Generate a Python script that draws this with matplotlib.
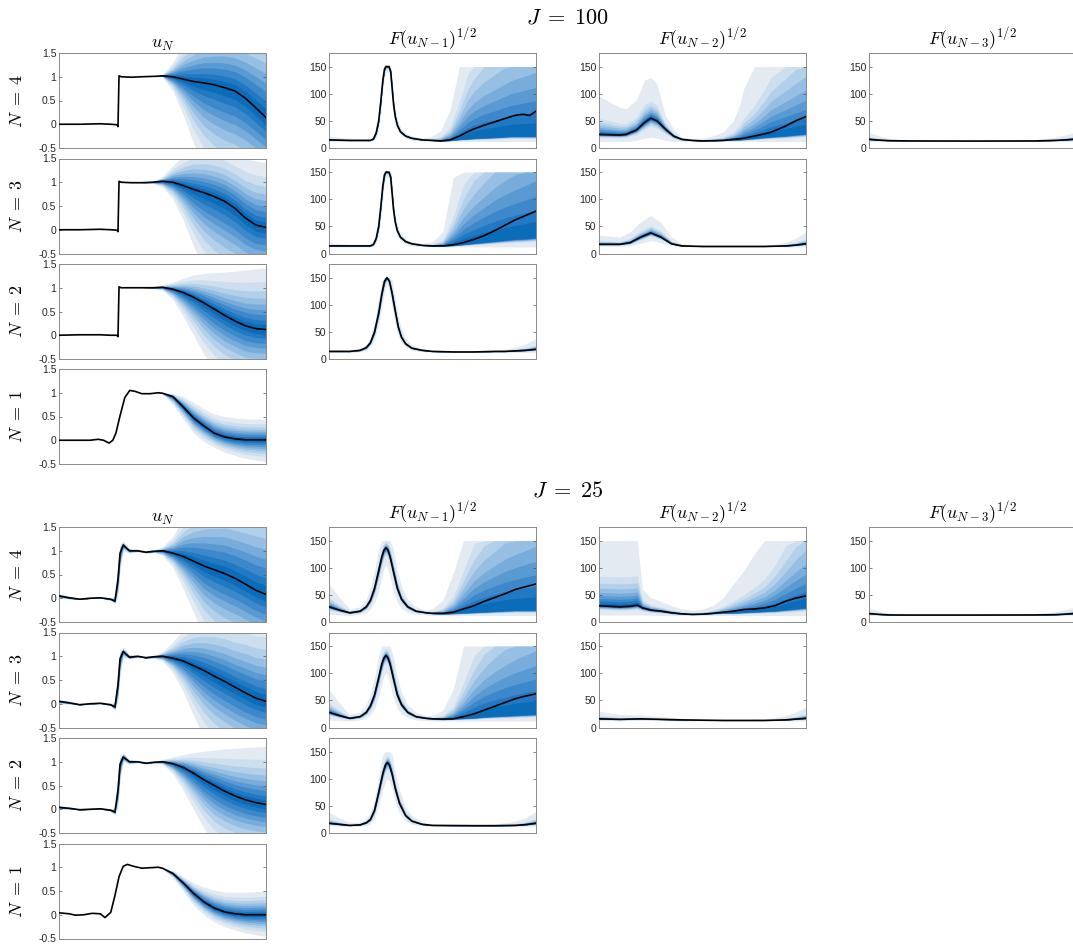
import numpy as np
import matplotlib
matplotlib.use("Agg")
import matplotlib.pyplot as plt

plt.rcParams['mathtext.fontset'] = 'cm'
plt.rcParams['font.family'] = ['Liberation Sans', 'DejaVu Sans']

# ---- data ----------------------------------------------------------------
# each panel: x knots (0..1 along the axis), median line, outer upper/lower
# envelope of the fan (5-95%), optional centre of the fan when it sits
# away from the median line

U_TICKS = [-0.5, 0, 0.5, 1, 1.5]
U_TICKLABELS = ['-0.5', '0', '0.5', '1', '1.5']
F_TICKS = [0, 50, 100, 150]
F_TICKLABELS = ['0', '50', '100', '150']
F_CAP = 150

# J = 100, u_N
j100_u4 = dict(
    x=[0, .1, .2, .25, .28, .285, .29, .3, .35, .4, .47, .5, .55, .6, .65, .7, .75, .8, .85, .9, .95, 1.0],
    med=[0, 0, .01, 0, -.01, -.05, 1.02, 1.0, .99, 1.0, 1.01, 1.02, 1.0, .95, .9, .87, .83, .77, .7, .55, .35, .14],
    hi=[0, 0, .01, 0, -.01, -.05, 1.02, 1.0, .99, 1.0, 1.01, 1.05, 1.3, 1.7, 2.0, 2.2, 2.3, 2.4, 2.4, 2.4, 2.4, 2.4],
    lo=[0, 0, .01, 0, -.01, -.05, 1.02, 1.0, .99, 1.0, 1.01, 1.0, .7, .2, -.4, -.9, -1.2, -1.4, -1.5, -1.6, -1.7, -1.8])
j100_u3 = dict(
    x=[0, .1, .2, .25, .28, .285, .29, .3, .35, .4, .45, .5, .55, .6, .65, .7, .75, .8, .85, .9, .95, 1.0],
    med=[0, 0, .01, 0, -.01, -.04, 1.02, 1.0, .99, .99, 1.0, 1.02, 1.0, .93, .85, .78, .7, .6, .45, .25, .1, .05],
    hi=[0, 0, .01, 0, -.01, -.04, 1.02, 1.0, .99, .99, 1.02, 1.12, 1.35, 1.55, 1.7, 1.75, 1.75, 1.7, 1.6, 1.5, 1.45, 1.42],
    lo=[0, 0, .01, 0, -.01, -.04, 1.02, 1.0, .99, .99, .98, .9, .65, .2, -.35, -.8, -1.1, -1.3, -1.4, -1.5, -1.5, -1.5])
j100_u2 = dict(
    x=[0, .1, .2, .25, .28, .285, .29, .3, .35, .4, .45, .5, .55, .6, .65, .7, .75, .8, .85, .9, .95, 1.0],
    med=[0, .01, .01, 0, 0, -.03, 1.02, 1.0, 1.0, 1.0, 1.0, 1.01, .97, .9, .8, .68, .55, .42, .3, .2, .14, .12],
    hi=[0, .01, .01, 0, 0, -.03, 1.02, 1.0, 1.0, 1.0, 1.01, 1.06, 1.12, 1.2, 1.27, 1.3, 1.32, 1.33, 1.35, 1.37, 1.4, 1.42],
    lo=[0, .01, .01, 0, 0, -.03, 1.02, 1.0, 1.0, 1.0, .99, .95, .75, .4, 0, -.4, -.7, -.9, -1.0, -1.1, -1.1, -1.1])
j100_u1 = dict(
    x=[0, .1, .15, .19, .215, .242, .26, .275, .294, .318, .342, .367, .4, .44, .48, .5, .55, .6, .65, .7, .75, .8, .85, .9, 1.0],
    med=[0, 0, 0, .02, 0, -.06, 0, .15, .5, .9, 1.05, 1.03, .98, .98, 1.0, .99, .92, .7, .47, .3, .15, .07, .03, .01, .01],
    hi=[0, 0, 0, .02, 0, -.06, 0, .15, .5, .9, 1.05, 1.03, .98, .98, 1.0, 1.0, .98, .92, .8, .66, .55, .5, .47, .45, .44],
    lo=[0, 0, 0, .02, 0, -.06, 0, .15, .5, .9, 1.05, 1.03, .98, .98, 1.0, .98, .75, .45, .15, -.03, -.15, -.25, -.32, -.38, -.45])

# J = 100, F(u_{N-1})^{1/2}
j100_f1_4 = dict(
    x=[0, .1, .2, .215, .228, .24, .25, .26, .268, .275, .29, .298, .305, .312, .32, .33, .345, .37, .4, .45,
       .5, .54, .585, .63, .67, .7, .75, .8, .84, .88, .91, .94, .97, 1.0],
    med=[15, 14, 14, 17, 28, 50, 85, 125, 145, 150, 150, 140, 110, 80, 58, 42, 30, 22, 18, 15,
         14, 13, 15, 22, 30, 35, 42, 48, 53, 58, 61, 62, 60, 68],
    hi=[22, 18, 17, 21, 36, 65, 105, 145, 160, 160, 160, 158, 130, 95, 70, 52, 38, 28, 22, 18,
        22, 32, 70, 180, 300, 360, 430, 480, 520, 560, 580, 600, 620, 640],
    lo=[12, 12, 12, 13, 20, 35, 65, 105, 130, 140, 140, 122, 90, 65, 45, 33, 24, 17, 14, 13,
        12, 12, 12, 12, 12, 12, 12, 12, 12, 12, 12, 12, 12, 12],
    ctr=[15, 14, 14, 17, 28, 50, 85, 125, 145, 150, 150, 140, 110, 80, 58, 42, 30, 22, 18, 15,
         14, 13, 14, 16, 17, 18, 19, 20, 21, 22, 22, 22, 22, 22])
j100_f1_3 = dict(
    x=[0, .1, .2, .215, .228, .24, .25, .26, .268, .275, .29, .298, .305, .312, .32, .33, .345, .37, .4, .45,
       .5, .55, .6, .65, .7, .75, .8, .85, .9, .95, 1.0],
    med=[14, 14, 14, 17, 28, 50, 85, 125, 145, 150, 150, 140, 110, 80, 58, 42, 30, 22, 18, 15,
         14, 14, 16, 20, 26, 33, 42, 52, 62, 70, 78],
    hi=[20, 17, 17, 21, 36, 65, 105, 145, 160, 160, 160, 158, 130, 95, 70, 52, 38, 28, 22, 18,
        22, 40, 140, 280, 380, 460, 540, 600, 650, 700, 750],
    lo=[12, 12, 12, 13, 20, 35, 65, 105, 130, 140, 140, 122, 90, 65, 45, 33, 24, 17, 14, 13,
        12, 12, 12, 12, 12, 12, 12, 12, 12, 12, 12],
    ctr=[14, 14, 14, 17, 28, 50, 85, 125, 145, 150, 150, 140, 110, 80, 58, 42, 30, 22, 18, 15,
         14, 14, 15, 17, 19, 21, 23, 25, 27, 28, 30])
j100_f1_2 = dict(
    x=[0, .1, .15, .18, .2, .22, .24, .255, .268, .28, .292, .305, .32, .335, .35, .37, .4, .45, .5,
       .6, .7, .8, .85, .9, .95, 1.0],
    med=[14, 14, 16, 21, 30, 50, 85, 120, 143, 150, 143, 120, 88, 58, 40, 28, 20, 16, 14,
         13, 13, 14, 14, 15, 16, 18],
    hi=[18, 16, 19, 27, 40, 68, 110, 145, 160, 160, 160, 145, 112, 78, 55, 38, 26, 19, 15.5,
        14.5, 14.5, 16, 18, 22, 28, 38],
    lo=[12, 12, 13, 16, 22, 36, 62, 95, 125, 138, 125, 95, 65, 42, 30, 21, 16, 13.5, 12.5,
        12, 12, 12, 12, 12, 12, 12])

# J = 100, F(u_{N-2})^{1/2}
j100_f2_4 = dict(
    x=[0, .05, .1, .13, .18, .22, .25, .28, .32, .36, .4, .45, .5, .55, .6, .65, .68, .7, .75, .8, .83, .9, .95, 1.0],
    med=[25, 24.5, 24, 25, 33, 47, 55, 50, 35, 22, 16, 14, 13, 13.5, 14, 16, 17, 18, 22, 26, 29, 40, 50, 58],
    hi=[95, 85, 75, 72, 88, 125, 130, 118, 60, 35, 20, 17, 18, 22, 30, 50, 80, 110, 160, 230, 280, 350, 400, 450],
    lo=[12, 12, 12, 12, 14, 18, 20, 18, 14, 12, 12, 12, 12, 12, 12, 12, 12, 12, 12, 12, 12, 12, 12, 12],
    ctr=[25, 24.5, 24, 25, 33, 47, 55, 50, 35, 22, 16, 14, 13, 13.5, 14, 15, 15.5, 16, 18, 20, 21, 23, 25, 27])
j100_f2_3 = dict(
    x=[0, .1, .15, .2, .25, .3, .35, .4, .5, .6, .7, .8, .85, .9, .95, 1.0],
    med=[17, 17, 20, 30, 38, 30, 18, 14, 13, 13, 13, 13, 13.5, 14, 15.5, 18],
    hi=[34, 30, 40, 58, 70, 57, 30, 18, 15, 14.5, 14.5, 15, 17, 21, 28, 40],
    lo=[13, 13, 14, 19, 24, 20, 14, 12.5, 12, 12, 12, 12, 12, 12, 12, 12])

# J = 100, F(u_{N-3})^{1/2}
j100_f3_4 = dict(
    x=[0, .05, .1, .2, .5, .8, .9, .95, 1.0],
    med=[16, 14.5, 13.5, 13, 12.8, 13, 14, 15, 16.5],
    hi=[28, 22, 17, 14.5, 14, 14.5, 20, 24, 30],
    lo=[12, 12, 12, 12, 12, 12, 12, 12, 12])

# J = 25, u_N
j25_u4 = dict(
    x=[0, .05, .1, .15, .2, .25, .27, .285, .295, .31, .34, .38, .42, .46, .5, .55, .6, .65, .7, .75, .8, .85, .9, .95, 1.0],
    med=[.05, .01, -.02, 0, .01, -.02, -.06, .4, .95, 1.12, 1.0, 1.0, .97, .99, 1.0, .95, .88, .78, .68, .6, .52, .42, .3, .17, .08],
    hi=[.1, .04, -.01, .01, .02, 0, .05, .8, 1.15, 1.2, 1.05, 1.02, .99, 1.02, 1.08, 1.3, 1.7, 2.0, 2.2, 2.3, 2.4, 2.4, 2.4, 2.4, 2.4],
    lo=[0, -.02, -.03, -.01, 0, -.05, -.12, .05, .6, 1.0, .95, .98, .95, .96, .9, .65, .2, -.3, -.8, -1.1, -1.3, -1.4, -1.5, -1.6, -1.7])
j25_u3 = dict(
    x=[0, .05, .1, .15, .2, .25, .27, .285, .295, .31, .34, .38, .42, .46, .5, .55, .6, .65, .7, .75, .8, .85, .9, .95, 1.0],
    med=[.05, .02, -.02, 0, .01, -.02, -.07, .4, .95, 1.1, .98, 1.0, .97, .99, 1.0, .96, .9, .8, .7, .58, .47, .35, .23, .12, .05],
    hi=[.1, .05, -.01, .01, .02, 0, .05, .8, 1.15, 1.2, 1.04, 1.02, .99, 1.02, 1.1, 1.3, 1.55, 1.75, 1.85, 1.9, 1.9, 1.85, 1.85, 1.8, 1.8],
    lo=[0, -.01, -.03, -.01, 0, -.05, -.14, .05, .6, .98, .94, .98, .95, .96, .9, .65, .25, -.25, -.7, -1.0, -1.2, -1.35, -1.45, -1.5, -1.5])
j25_u2 = dict(
    x=[0, .05, .1, .15, .2, .25, .27, .285, .295, .31, .34, .38, .42, .46, .5, .55, .6, .65, .7, .75, .8, .85, .9, .95, 1.0],
    med=[.04, .02, -.01, 0, .01, -.02, -.06, .4, .95, 1.1, 1.0, 1.0, .97, .99, 1.0, .96, .88, .76, .62, .5, .38, .28, .2, .14, .1],
    hi=[.08, .04, 0, .01, .02, 0, .05, .8, 1.15, 1.2, 1.05, 1.02, .99, 1.01, 1.05, 1.1, 1.15, 1.19, 1.22, 1.25, 1.27, 1.28, 1.3, 1.31, 1.32],
    lo=[0, 0, -.02, -.01, 0, -.05, -.12, .05, .6, 1.0, .95, .98, .95, .97, .95, .75, .4, 0, -.4, -.7, -.85, -.95, -1.0, -1.02, -1.05])
j25_u1 = dict(
    x=[0, .05, .08, .12, .16, .2, .222, .25, .27, .29, .31, .33, .36, .4, .44, .48, .5, .55, .6, .65, .7, .75, .8, .85, .9, 1.0],
    med=[.04, .02, -.01, 0, .03, .02, -.06, .05, .4, .8, 1.02, 1.06, 1.02, .98, .99, 1.0, .98, .87, .67, .45, .27, .14, .06, .02, 0, 0],
    hi=[.04, .02, -.01, 0, .03, .02, -.06, .05, .4, .8, 1.02, 1.06, 1.02, .98, .99, 1.0, .99, .93, .8, .67, .58, .52, .48, .47, .47, .5],
    lo=[.04, .02, -.01, 0, .03, .02, -.06, .05, .4, .8, 1.02, 1.06, 1.02, .98, .99, 1.0, .97, .78, .5, .2, 0, -.15, -.25, -.32, -.38, -.46])

# J = 25, F(u_{N-1})^{1/2}
j25_f1_4 = dict(
    x=[0, .05, .1, .15, .18, .2, .22, .24, .255, .265, .275, .285, .295, .31, .33, .35, .38, .42, .47, .5,
       .55, .6, .65, .7, .75, .8, .85, .9, .95, 1.0],
    med=[28, 22, 17, 20, 28, 40, 62, 95, 120, 132, 137, 132, 120, 95, 62, 42, 28, 20, 17, 16,
         16, 18, 24, 30, 38, 45, 52, 60, 65, 70],
    hi=[70, 45, 24, 28, 42, 62, 95, 135, 158, 165, 165, 165, 158, 135, 95, 65, 42, 28, 22, 25,
        40, 90, 200, 320, 400, 460, 520, 560, 600, 640],
    lo=[14, 13, 12, 14, 18, 24, 36, 58, 82, 98, 105, 98, 82, 58, 36, 25, 18, 14, 13, 12,
        12, 12, 12, 12, 12, 12, 12, 12, 12, 12],
    ctr=[28, 22, 17, 20, 28, 40, 62, 95, 120, 132, 137, 132, 120, 95, 62, 42, 28, 20, 17, 16,
         15, 16, 17, 18, 19, 20, 21, 22, 22, 22])
j25_f1_3 = dict(
    x=[0, .05, .1, .15, .18, .2, .22, .24, .255, .265, .275, .285, .295, .31, .33, .35, .38, .42, .47, .5,
       .55, .6, .65, .7, .75, .8, .85, .9, .95, 1.0],
    med=[28, 22, 17, 20, 28, 40, 60, 92, 117, 128, 133, 128, 117, 92, 60, 42, 28, 20, 17, 16,
         15.5, 16, 20, 25, 32, 39, 46, 53, 58, 62],
    hi=[70, 45, 24, 28, 42, 62, 92, 132, 155, 162, 162, 162, 155, 132, 92, 65, 42, 28, 22, 22,
        32, 70, 170, 290, 380, 450, 510, 560, 600, 640],
    lo=[14, 13, 12, 14, 18, 24, 35, 56, 80, 95, 102, 95, 80, 56, 35, 25, 18, 14, 13, 12,
        12, 12, 12, 12, 12, 12, 12, 12, 12, 12],
    ctr=[28, 22, 17, 20, 28, 40, 60, 92, 117, 128, 133, 128, 117, 92, 60, 42, 28, 20, 17, 16,
         15, 16, 17, 18, 20, 21, 22, 23, 24, 25])
j25_f1_2 = dict(
    x=[0, .05, .1, .15, .18, .2, .22, .24, .26, .272, .282, .292, .305, .32, .34, .37, .4, .45, .5,
       .7, .8, .9, .95, 1.0],
    med=[18, 16, 14, 15, 19, 25, 42, 75, 110, 125, 130, 125, 108, 82, 55, 32, 22, 16, 14,
         13.5, 13.5, 14, 15.5, 18],
    hi=[38, 28, 20, 20, 27, 38, 62, 105, 145, 160, 162, 160, 145, 112, 80, 48, 32, 21, 16,
        15, 16, 22, 28, 40],
    lo=[13, 12.5, 12, 12.5, 14, 17, 27, 50, 80, 95, 100, 95, 80, 58, 37, 22, 16, 13, 12.5,
        12, 12, 12, 12, 12])

# J = 25, F(u_{N-2})^{1/2}
j25_f2_4 = dict(
    x=[0, .1, .15, .185, .21, .25, .3, .35, .4, .45, .5, .55, .6, .65, .7, .75, .8, .85, .9, .95, 1.0],
    med=[30, 28, 29, 31, 26, 22, 20, 17, 15, 14, 14.5, 16, 18, 20, 23, 24, 26, 30, 38, 44, 48],
    hi=[160, 160, 160, 160, 60, 45, 38, 30, 24, 22, 24, 30, 45, 70, 95, 125, 160, 220, 300, 380, 450],
    lo=[13, 13, 13, 13, 13, 12.5, 12, 12, 12, 12, 12, 12, 12, 12, 12, 12, 12, 12, 12, 12, 12],
    ctr=[30, 28, 29, 31, 26, 22, 20, 17, 15, 14, 14.5, 16, 17, 17, 18, 19, 20, 21, 23, 25, 27])
j25_f2_3 = dict(
    x=[0, .1, .2, .3, .4, .5, .6, .7, .8, .85, .9, .95, 1.0],
    med=[16, 15, 16, 15, 14, 13.5, 13, 13, 13, 13.5, 14, 15.5, 17],
    hi=[30, 24, 23, 20, 17, 15, 14.5, 14.5, 16, 18, 22, 28, 38],
    lo=[12.5, 12.5, 13, 12.5, 12, 12, 12, 12, 12, 12, 12, 12, 12])

# J = 25, F(u_{N-3})^{1/2}
j25_f3_4 = dict(
    x=[0, .05, .1, .2, .5, .8, .9, .95, 1.0],
    med=[15.5, 14, 13, 12.8, 12.8, 13, 13.5, 14.5, 16],
    hi=[26, 20, 16, 14.5, 14, 14.5, 19, 23, 28],
    lo=[12, 12, 12, 12, 12, 12, 12, 12, 12])

GROUPS = [
    (r'$J\;=\;100$', [[j100_u4, j100_u3, j100_u2, j100_u1],
                      [j100_f1_4, j100_f1_3, j100_f1_2],
                      [j100_f2_4, j100_f2_3],
                      [j100_f3_4]]),
    (r'$J\;=\;25$', [[j25_u4, j25_u3, j25_u2, j25_u1],
                     [j25_f1_4, j25_f1_3, j25_f1_2],
                     [j25_f2_4, j25_f2_3],
                     [j25_f3_4]]),
]
COL_TITLES = ['$u_N$', '$F(u_{N-1})^{1/2}$', '$F(u_{N-2})^{1/2}$', '$F(u_{N-3})^{1/2}$']
ROW_LABELS = [r'$N\;=\;4$', r'$N\;=\;3$', r'$N\;=\;2$', r'$N\;=\;1$']

# ---- style --------------------------------------------------------------
# fan fractions (outer band first) and band colours, light to dark
U_FRAC = [1.0, 0.78, 0.63, 0.51, 0.41, 0.32, 0.24, 0.15, 0.08]
F_FRAC = [1.0, 0.42, 0.32, 0.25, 0.19, 0.145, 0.105, 0.07, 0.04]
BLUES = ['#e3eaf1', '#cddfee', '#b3d0ea', '#96bfe3', '#78acdb',
         '#5a9ad2', '#3c88ca', '#2079c2', '#0b6cba']

W, H = 1073, 944
COL_X = [59, 329, 599, 869]
ROW_Y = [[53, 158.5, 264, 369], [527, 632.5, 738, 843.5]]
TITLE_Y = [18, 491]
AX_W, AX_H = 207, 95

fig = plt.figure(figsize=(W / 100, H / 100), dpi=100)


def draw_panel(ax, p, kind):
    x = np.array(p['x'], float)
    med = np.array(p['med'], float)
    hi = np.array(p['hi'], float)
    lo = np.array(p['lo'], float)
    ctr = np.array(p.get('ctr', p['med']), float)
    fracs = U_FRAC if kind == 'u' else F_FRAC
    for f, c in zip(fracs, BLUES):
        top = ctr + f * (hi - ctr)
        bot = ctr - f * (ctr - lo)
        if kind == 'F':
            top = np.minimum(top, F_CAP)
            bot = np.minimum(bot, F_CAP)
        ax.fill_between(x, bot, top, color=c, lw=0, zorder=1)
    ax.plot(x, np.minimum(med, F_CAP) if kind == 'F' else med,
            color='k', lw=1.2, zorder=3)

    ax.set_xlim(0, 1)
    ax.set_xticks([])
    if kind == 'u':
        ax.set_ylim(-0.5, 1.5)
        ax.set_yticks(U_TICKS)
        ax.set_yticklabels(U_TICKLABELS)
    else:
        ax.set_ylim(0, 175)
        ax.set_yticks(F_TICKS)
        ax.set_yticklabels(F_TICKLABELS)
    ax.tick_params(axis='y', direction='in', length=2.5, width=0.5,
                   left=True, right=True, labelsize=7.5, pad=2,
                   color='#555555', labelcolor='#262626')
    for s in ax.spines.values():
        s.set_color('#8a8a8a')
        s.set_linewidth(0.7)


for g, (gtitle, cols) in enumerate(GROUPS):
    fig.text((COL_X[0] + COL_X[3] + AX_W) / 2 / W, 1 - TITLE_Y[g] / H, gtitle,
             ha='center', va='center', fontsize=16)
    for c, panels in enumerate(cols):
        kind = 'u' if c == 0 else 'F'
        for r, p in enumerate(panels):
            top = ROW_Y[g][r]
            ax = fig.add_axes([COL_X[c] / W, 1 - (top + AX_H) / H, AX_W / W, AX_H / H])
            draw_panel(ax, p, kind)
            if r == 0:
                ax.set_title(COL_TITLES[c], fontsize=13, pad=2)
            if c == 0:
                fig.text(17 / W, 1 - (top + AX_H / 2) / H, ROW_LABELS[r],
                         rotation=90, ha='center', va='center', fontsize=13)

fig.savefig('out.png', dpi=100)
